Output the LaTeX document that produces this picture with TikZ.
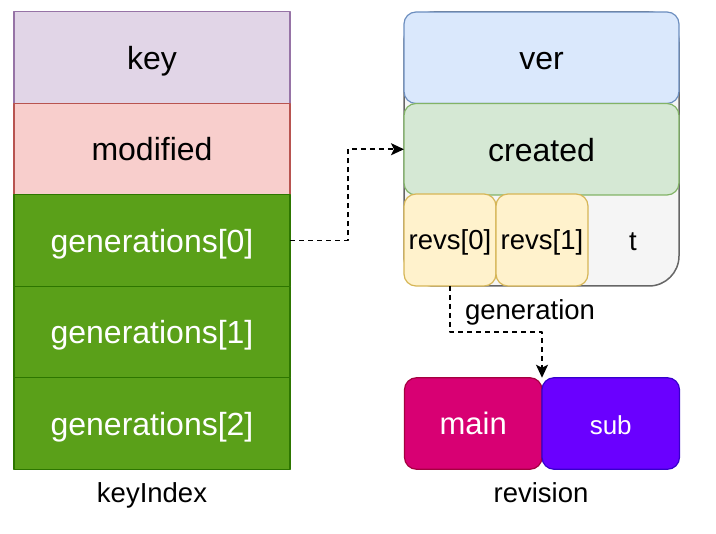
\documentclass[tikz,border=0pt]{standalone}
\usepackage{fontspec}
\setmainfont{Liberation Sans}
\usetikzlibrary{positioning,arrows.meta}

\definecolor{keyfill}{HTML}{E1D5E7}\definecolor{keyline}{HTML}{9673A6}
\definecolor{modfill}{HTML}{F8CECC}\definecolor{modline}{HTML}{B85450}
\definecolor{genfill}{HTML}{5AA019}\definecolor{genline}{HTML}{2D7600}
\definecolor{verfill}{HTML}{DAE8FC}\definecolor{verline}{HTML}{6C8EBF}
\definecolor{crefill}{HTML}{D5E8D4}\definecolor{creline}{HTML}{82B366}
\definecolor{revfill}{HTML}{FFF2CC}\definecolor{revline}{HTML}{D6B656}
\definecolor{boxfill}{HTML}{F5F5F5}\definecolor{boxline}{HTML}{666666}
\definecolor{mainfill}{HTML}{D80073}\definecolor{mainline}{HTML}{A50040}
\definecolor{subfill}{HTML}{6A00FF}\definecolor{subline}{HTML}{3700CC}

\tikzset{
  bigtext/.style={font=\fontsize{32}{36}\selectfont, text height=26pt, text depth=2pt},
  smalltext/.style={font=\fontsize{27.5}{32}\selectfont, text height=22pt, text depth=2pt},
  cell/.style={draw, line width=1.2pt, minimum width=276pt, minimum height=91.5pt, bigtext},
  field/.style={draw, line width=1.2pt, rounded corners=12pt, minimum width=275pt, minimum height=91.5pt, bigtext},
  revcell/.style={draw=revline, fill=revfill, line width=1.2pt, rounded corners=12pt, minimum width=92pt, minimum height=92pt, smalltext},
  half/.style={draw, line width=1.2pt, rounded corners=12pt, minimum width=137.5pt, minimum height=91.5pt, text height=24pt, text depth=2pt},
  link/.style={dashed, dash pattern=on 5pt off 4pt, line width=1.8pt, -{Stealth[length=13pt,width=12pt,inset=3pt]}}
}

\begin{document}
\begin{tikzpicture}[x=1pt, y=-1pt, line join=round, every node/.style={inner sep=0pt, outer sep=0pt}]
  \useasboundingbox (0,0) rectangle (716,534);

  % keyIndex
  \node[cell, draw=keyline, fill=keyfill] (key) at (152,57.5) {key};
  \node[cell, draw=modline, fill=modfill, below=0pt of key] (modified) {modified};
  \node[cell, draw=genline, fill=genfill, text=white, below=0pt of modified] (gen0) {generations[0]};
  \foreach \i/\j in {1/0,2/1}
    \node[cell, draw=genline, fill=genfill, text=white, below=0pt of gen\j] (gen\i) {generations[\i]};
  \node[smalltext] (keyindex) at (152,493) {keyIndex};

  % generation
  \node[draw=boxline, fill=boxfill, line width=1.5pt, rounded corners=30pt,
        minimum width=275pt, minimum height=274pt] (gen) at (541.5,149) {};
  \node[field, draw=verline, fill=verfill, anchor=north] (ver) at (gen.north) {ver};
  \node[field, draw=creline, fill=crefill, below=0pt of ver] (created) {created};
  \node[revcell, anchor=south west] (rev0) at (gen.south west) {revs[0]};
  \node[revcell, right=0pt of rev0] (rev1) {revs[1]};
  \node[smalltext] (t) at (633,241) {t};
  \node[smalltext] (genlabel) at (530,310) {generation};

  % revision
  \node[half, draw=mainline, fill=mainfill, text=white, font=\fontsize{31}{36}\selectfont] (main) at (473.25,423.5) {main};
  \node[half, draw=subline, fill=subfill, text=white, font=\fontsize{26}{30}\selectfont, right=0pt of main] (sub) {sub};
  \node[smalltext] (revision) at (541,493) {revision};

  \draw[link] (gen0.east) -- ++(58,0) |- (created.west);
  \draw[link] (rev0.south) -- ++(0,46) -| (main.north east);
\end{tikzpicture}
\end{document}
